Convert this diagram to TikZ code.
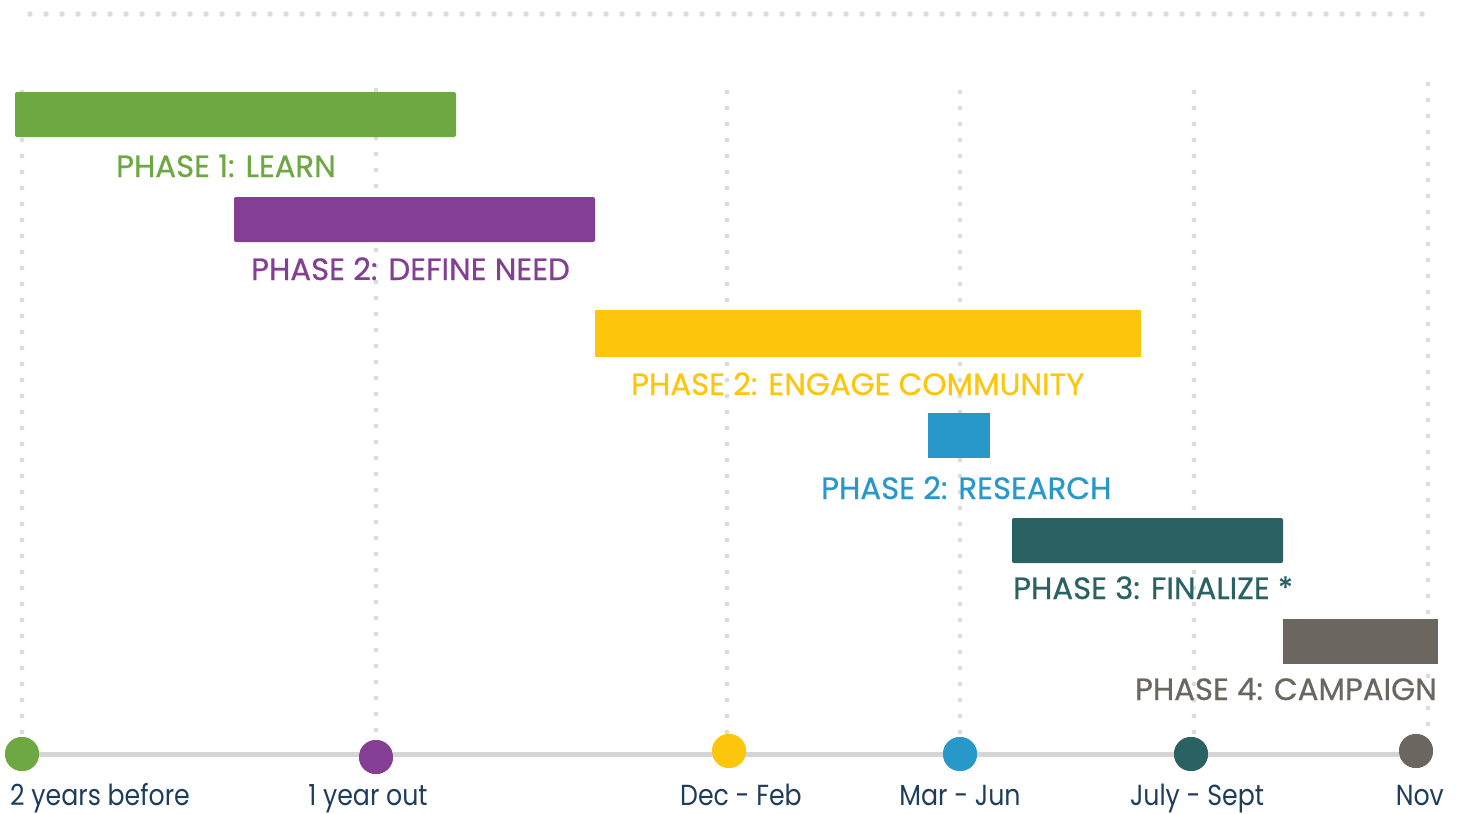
\documentclass[tikz,border=0pt]{standalone}
\usepackage{fontspec}
\setmainfont{Poppins}
\newfontfamily\phasefont[FakeBold=0.6]{Poppins}
\newfontfamily\axisfont[FakeStretch=0.87]{Poppins}
\definecolor{cgreen}{HTML}{6EA843}
\definecolor{cpurple}{HTML}{843F94}
\definecolor{cyellow}{HTML}{FDC60C}
\definecolor{cblue}{HTML}{2898CB}
\definecolor{cteal}{HTML}{2A6163}
\definecolor{cgray}{HTML}{6B6760}
\definecolor{cdot}{HTML}{DCDCDE}
\definecolor{cline}{HTML}{D5D5D5}
\definecolor{cnavy}{HTML}{1E3D5C}
\begin{document}
\begin{tikzpicture}[x=1pt,y=-1pt,
  dotline/.style={cdot,line width=4.8pt,line cap=round,dash pattern=on 0pt off 16pt},
  bar/.style={fill=#1,draw=none,rounded corners=2pt},
  phase/.style={text=#1,inner sep=0pt,font=\phasefont\fontsize{30.8}{34}\selectfont},
  dot/.style={circle,fill=#1,draw=none,minimum size=34pt,inner sep=0pt},
  axislabel/.style={text=cnavy,inner sep=0pt,font=\axisfont\fontsize{29}{34}\selectfont}]
\useasboundingbox (0,0) rectangle (1462,814);
% top dotted rule
\coordinate (t1) at (30,14);
\coordinate (t2) at (1425,14);
\draw[dotline,line width=5.5pt] (t1) -- (t2);
% vertical dotted guides
\foreach \n/\x/\ys in {v1/22/92, v2/376/90, v3/727/92, v4/960/92, v5/1194/92, v6/1428/84}{
  \coordinate (\n a) at (\x,\ys);
  \coordinate (\n b) at (\x,735);
  \draw[dotline] (\n a) -- (\n b);
}
% timeline
\node[dot=cgreen] (c1) at (22,754) {};
\node[dot=cpurple] (c2) at (376,757) {};
\node[dot=cyellow] (c3) at (729,751) {};
\node[dot=cblue] (c4) at (960,754) {};
\node[dot=cteal] (c5) at (1191,754) {};
\node[dot=cgray] (c6) at (1416,751) {};
\draw[cline,line width=5pt] (c1.center) -- (c1.center -| c6.center);
\foreach \c/\col in {c1/cgreen,c2/cpurple,c3/cyellow,c4/cblue,c5/cteal,c6/cgray}{
  \fill[\col] (\c) circle (17pt);
}
% axis labels
\node[axislabel,anchor=base west] (l1) at (10,805) {2 years before};
\node[axislabel,anchor=base] (l2) at (368,805) {1 year out};
\node[axislabel,anchor=base] (l3) at (741,805) {Dec - Feb};
\node[axislabel,anchor=base] (l4) at (960,805) {Mar - Jun};
\node[axislabel,anchor=base] (l5) at (1197,805) {July - Sept};
\node[axislabel,anchor=base east] (l6) at (1444,805) {Nov};
% bars
\fill[bar=cgreen] (15,92) rectangle (456,137);
\fill[bar=cpurple] (234,197) rectangle (595,242);
\fill[cyellow] (595,310) rectangle (1141,357);
\fill[cblue] (928,413) rectangle (990,458);
\fill[bar=cteal] (1012,518) rectangle (1283,563);
\fill[cgray] (1283,619) rectangle (1438,664);
% phase labels
\node[phase=cgreen,anchor=base west] (p1) at (116,177) {PHASE 1: LEARN};
\node[phase=cpurple,anchor=base west] (p2) at (251,280) {PHASE 2: DEFINE NEED};
\node[phase=cyellow,anchor=base west] (p3) at (631,395) {PHASE 2: ENGAGE COMMUNITY};
\node[phase=cblue,anchor=base west] (p4) at (821,499) {PHASE 2: RESEARCH};
\node[phase=cteal,anchor=base west] (p5) at (1013,599) {PHASE 3: FINALIZE *};
\node[phase=cgray,anchor=base east] (p6) at (1437,700) {PHASE 4: CAMPAIGN};
\end{tikzpicture}
\end{document}
